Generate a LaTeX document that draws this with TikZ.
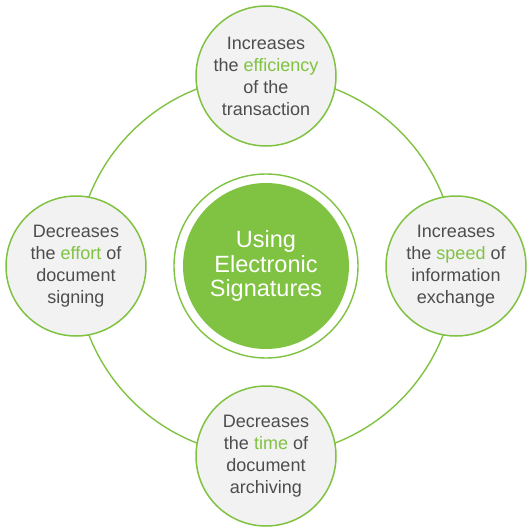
\documentclass[tikz,border=0pt]{standalone}
\usepackage{fontspec}
\setmainfont{Liberation Sans}
\definecolor{lgreen}{HTML}{80C241}
\definecolor{ltext}{HTML}{4D4D4D}
\definecolor{lfill}{HTML}{F2F2F2}
\begin{document}
\begin{tikzpicture}[x=1pt,y=-1pt,
  small/.style={circle,draw=lgreen,line width=1.5pt,fill=lfill,minimum size=140pt,inner sep=0pt,
    text=ltext,align=center,font=\fontsize{18}{22}\selectfont}]
\useasboundingbox (0,0) rectangle (532,532);
\coordinate (c) at (266,266);
\draw[lgreen,line width=1.4pt] (c) circle[radius=190];
\node[small] (top) at (266,76) {Increases\\the \textcolor{lgreen}{efficiency}\\of the\\transaction};
\node[small] (left) at (76,266) {Decreases\\the \textcolor{lgreen}{effort} of\\document\\signing};
\node[small] (right) at (456,266) {Increases\\the \textcolor{lgreen}{speed} of\\information\\exchange};
\node[small] (bottom) at (266,456) {Decreases\\the \textcolor{lgreen}{time} of\\document\\archiving};
\node[circle,draw=lgreen,line width=1.4pt,fill=white,minimum size=184pt] (ring) at (c) {};
\node[circle,fill=lgreen,minimum size=166pt,text=white,align=center,font=\fontsize{23.5}{24.5}\selectfont] (center) at (c) {Using\\Electronic\\Signatures};
\end{tikzpicture}
\end{document}
